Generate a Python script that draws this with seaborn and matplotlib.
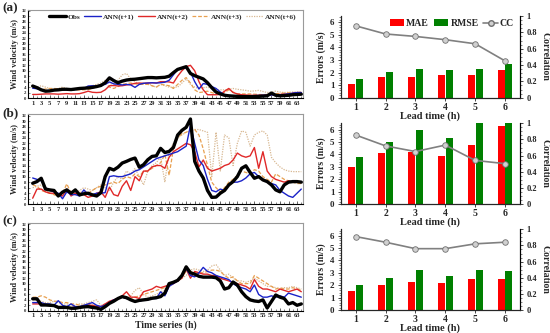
import numpy as np
import pandas as pd
import matplotlib
matplotlib.use('Agg')
import matplotlib.pyplot as plt
import seaborn as sns
from matplotlib.patches import Patch
from matplotlib.lines import Line2D
from matplotlib.ticker import MultipleLocator

# ---------------- data ----------------
series_names = ['Obs', 'ANN(t+1)', 'ANN(t+2)', 'ANN(t+3)', 'ANN(t+6)']

obs_a = [4.4,3.8,3.0,2.5,2.6,2.9,3.0,3.2,3.2,3.1,3.3,3.5,3.6,3.7,3.9,4.2,4.6,5.6,7.4,6.4,
         5.6,6.2,6.6,6.8,6.9,7.1,7.3,7.5,7.5,7.4,7.5,7.6,8.0,9.3,10.5,11.0,11.5,9.0,8.2,7.6,
         7.0,5.6,3.8,2.2,1.5,1.0,0.8,0.7,0.6,0.5,0.5,0.5,0.5,0.6,0.7,0.8,1.8,1.0,0.8,0.9,
         1.0,1.2,1.3,1.4]
ann1_a = [3.6,3.4,3.0,2.7,2.7,2.9,3.0,3.0,3.1,3.0,3.1,3.3,3.5,4.4,4.5,4.4,4.8,5.0,5.9,5.2,
          5.0,4.8,5.0,4.8,3.9,5.0,5.4,5.5,5.6,5.5,5.6,5.8,6.5,8.5,10.5,11.0,11.1,9.5,6.0,3.3,
          5.3,5.0,4.2,3.5,2.2,1.2,0.9,0.8,0.8,0.8,0.8,0.8,0.9,0.9,1.0,1.0,1.1,1.2,1.2,1.3,
          1.5,1.8,2.0,2.0]
ann2_a = [1.3,1.3,1.4,1.5,1.5,1.5,1.4,1.5,1.6,1.5,1.5,1.6,2.0,2.5,2.1,2.0,2.1,3.0,4.5,4.6,
          4.4,4.5,4.8,5.0,5.4,5.5,5.4,5.5,5.6,5.5,6.0,6.0,5.9,5.5,8.0,10.0,11.5,12.0,10.0,6.0,
          3.0,1.2,1.2,1.2,1.3,2.5,3.5,2.0,1.5,1.2,1.1,1.0,1.0,1.0,1.0,1.1,1.2,1.2,1.3,1.4,
          1.5,1.7,2.0,2.0]
ann3_a = [4.5,3.8,3.0,3.3,3.5,3.5,3.4,3.5,3.0,2.8,2.9,3.0,3.0,3.1,3.5,4.2,4.8,5.5,4.0,3.5,
          4.2,5.0,5.3,5.5,5.2,5.0,5.0,5.0,4.5,4.0,5.0,4.8,4.5,3.5,5.0,6.5,7.5,5.5,3.0,2.0,
          2.2,2.5,2.0,1.5,1.8,2.0,3.0,2.2,1.5,1.5,1.5,1.5,1.4,1.3,1.2,1.3,1.5,1.6,1.7,1.8,
          1.9,2.0,2.0,2.0]
ann6_a = [3.5,4.0,4.5,4.0,3.5,3.0,3.5,4.0,3.5,3.0,3.2,3.4,3.5,4.0,4.5,5.0,5.5,6.5,5.5,4.5,
          6.5,8.5,9.0,7.0,6.0,5.0,5.2,5.5,4.5,4.0,5.0,4.5,4.0,4.0,4.0,5.5,7.0,5.0,4.0,3.5,
          3.8,4.0,3.5,3.0,3.0,3.0,3.2,3.5,3.2,3.0,2.8,2.5,2.6,2.8,2.4,2.0,2.2,2.5,2.2,2.0,
          2.1,2.2,2.2,2.2]

obs_b = [7.6,8.2,9.4,5.5,5.2,5.0,3.0,4.4,5.2,4.0,5.2,3.4,3.8,4.0,3.4,3.0,4.2,10.0,13.0,12.4,
         13.4,14.9,15.5,16.2,16.7,13.4,14.3,16.1,17.3,17.5,20.2,18.7,19.1,20.5,25.0,26.7,27.8,30.8,15.5,12.0,
         9.5,5.0,2.5,2.6,4.0,5.0,7.0,8.2,10.0,13.0,13.9,11.5,9.4,10.0,8.8,8.2,7.0,5.2,4.5,7.0,
         8.0,8.2,8.2,8.0]
ann1_b = [9.5,9.0,8.5,6.0,5.0,4.5,4.0,2.0,4.5,3.5,3.5,3.0,5.2,3.5,3.5,4.0,4.0,4.2,10.0,10.3,
          10.0,10.0,10.5,11.0,12.0,12.5,13.5,14.5,15.5,16.5,17.0,17.5,18.0,18.5,19.0,20.0,21.0,28.5,22.0,16.0,
          14.0,9.0,5.0,4.5,5.5,5.0,7.0,8.0,8.0,8.5,9.5,11.0,11.5,10.0,9.0,8.0,7.5,7.0,5.0,4.0,
          3.0,2.5,4.0,5.5]
ann2_b = [2.2,5.5,5.5,4.5,4.0,4.0,3.5,3.0,5.5,3.0,4.0,3.5,3.5,2.5,3.0,4.0,4.5,2.5,6.2,3.5,
          3.0,6.5,8.5,5.0,10.0,8.5,12.0,12.0,13.5,14.0,14.0,13.0,17.0,19.0,20.0,21.0,22.0,21.5,19.0,13.5,
          16.0,13.0,12.0,12.5,13.0,14.0,14.5,16.0,18.5,17.5,17.0,17.5,20.5,13.0,19.0,12.0,10.0,9.0,8.5,8.0,
          8.5,8.0,8.0,8.0]
ann3_b = [7.0,6.5,5.0,4.5,4.0,3.5,3.0,4.0,7.4,4.0,3.5,4.0,5.0,4.0,5.0,6.0,6.5,7.0,7.5,8.0,
          7.5,9.0,10.0,9.5,11.0,10.0,12.0,12.0,13.0,14.0,15.0,18.0,10.5,20.0,24.0,25.5,26.0,27.0,27.0,25.0,
          20.0,14.0,8.0,6.0,4.5,6.0,8.0,9.0,10.5,12.0,11.5,11.0,12.5,12.0,10.0,9.0,8.0,11.0,10.0,9.0,
          8.5,8.0,7.5,7.5]
ann6_b = [6.0,6.5,7.0,5.5,4.0,3.5,3.0,4.0,5.0,4.5,4.0,5.0,6.0,5.5,5.0,6.0,7.0,6.0,5.0,8.0,
          10.0,9.0,12.0,11.0,13.0,10.0,7.0,12.0,14.0,15.0,17.0,8.0,19.0,22.0,24.0,25.0,26.0,26.5,27.0,27.0,
          26.5,26.0,10.0,26.0,12.0,25.0,24.0,14.0,22.0,26.5,26.0,21.0,25.0,26.0,26.5,25.0,17.0,15.0,13.5,12.5,
          12.0,11.8,11.8,11.8]

obs_c = [4.4,4.4,2.1,2.1,2.0,1.9,1.2,1.2,1.2,0.9,0.9,1.2,1.4,1.5,1.2,1.0,0.5,1.5,2.7,3.5,
         4.5,5.2,4.8,4.0,3.4,3.8,4.0,4.2,4.6,4.8,5.2,6.5,10.0,10.5,11.2,13.0,16.2,14.0,13.5,12.7,
         12.4,12.4,12.4,12.2,11.0,8.0,8.5,10.6,9.5,7.0,5.2,4.0,3.6,3.4,4.0,1.0,3.4,5.8,5.0,4.5,
         2.5,3.0,2.0,2.5]
ann1_c = [3.0,3.0,3.0,2.5,2.5,2.0,3.7,2.0,1.5,2.5,1.5,1.5,2.0,2.5,3.0,2.0,1.5,2.0,3.0,4.0,
          4.5,5.0,4.5,4.0,3.5,3.5,4.0,4.0,4.5,4.5,7.0,5.5,9.0,10.0,11.0,13.0,15.5,13.0,12.5,14.0,
          16.0,14.5,14.0,13.0,12.5,12.0,11.5,10.0,9.0,8.5,8.0,7.0,9.5,6.0,5.0,5.0,5.5,5.0,5.5,5.0,
          6.5,6.0,5.5,5.0]
ann2_c = [2.5,2.5,2.5,2.0,2.0,2.0,1.5,1.5,1.0,1.0,1.5,1.5,1.5,2.0,2.0,1.5,1.5,2.5,3.5,4.0,
          4.5,5.5,7.0,5.0,5.0,4.5,7.0,7.5,8.0,9.0,8.5,9.0,9.5,10.0,11.0,12.0,15.5,12.0,14.5,14.0,
          13.5,13.5,13.0,13.0,12.0,11.5,11.0,10.5,10.0,9.5,9.0,8.0,11.5,9.0,8.0,8.0,7.5,7.0,8.0,7.5,
          7.0,7.5,8.0,7.0]
ann3_c = [5.0,5.0,5.5,5.0,4.0,3.5,3.5,3.0,3.0,2.5,2.5,2.0,2.0,2.5,2.0,2.0,1.5,2.5,3.0,4.0,
          4.5,5.0,5.0,4.5,5.0,5.5,6.0,6.5,7.0,7.5,8.0,8.5,9.0,10.0,11.0,12.5,14.5,14.5,14.0,14.0,
          14.0,14.5,15.0,15.0,14.5,13.0,12.0,12.5,11.0,10.0,10.0,10.0,13.0,12.0,11.0,10.0,9.0,8.0,8.5,8.0,
          8.0,8.5,8.0,7.5]
ann6_c = [4.0,4.0,3.5,3.0,3.0,3.5,3.0,2.5,2.5,2.0,2.0,2.5,2.5,3.0,3.5,4.0,2.0,2.5,3.0,4.0,
          4.5,5.0,4.5,5.5,7.5,8.5,6.0,5.0,5.5,6.0,7.0,7.5,9.0,10.0,11.0,12.0,13.0,15.0,15.5,15.0,
          14.5,15.0,16.5,17.0,15.0,13.0,13.5,12.0,11.0,11.0,10.5,11.0,12.0,11.0,10.0,9.0,9.0,8.5,8.0,8.5,
          8.5,9.0,8.5,8.0]

lead_times = [1, 2, 3, 4, 5, 6]
mae_a = [1.07, 1.63, 1.63, 1.81, 1.81, 2.21]
rmse_a = [1.49, 2.03, 2.27, 2.21, 2.29, 2.67]
cc_a = [0.88, 0.78, 0.75, 0.71, 0.66, 0.45]
mae_b = [3.0, 4.07, 4.2, 3.86, 4.74, 6.3]
rmse_b = [3.8, 5.0, 6.0, 5.3, 6.6, 6.6]
cc_b = [0.855, 0.72, 0.65, 0.73, 0.54, 0.50]
mae_c = [1.55, 2.0, 2.27, 2.21, 2.48, 2.48]
rmse_c = [2.0, 2.61, 3.2, 2.72, 3.2, 3.12]
cc_c = [0.91, 0.84, 0.76, 0.76, 0.82, 0.84]

panel_labels = ['(a)', '(b)', '(c)']
ts_ticks = list(range(1, 64, 2))
wind_ticks = list(range(0, 33, 2))

# ---------------- style ----------------
sns.set_style('ticks')
plt.rcParams['font.family'] = ['Liberation Serif', 'DejaVu Serif']
plt.rcParams['font.weight'] = 'bold'
plt.rcParams['axes.labelweight'] = 'bold'

colors = ['#000000', '#1A22C8', '#E02828', '#E8A050', '#D8B892']
widths = [2.4, 1.0, 1.0, 0.9, 0.9]
styles = ['-', '-', '-', (0, (3, 1.5)), (0, (1, 1))]
c_mae, c_rmse, c_cc = '#FF0000', '#008000', '#808080'

fig = plt.figure(figsize=(5.5, 3.33), dpi=100)

H = 333.0
def fpos(x0, x1, y0, y1):
    return [x0 / 550.0, 1 - y1 / H, (x1 - x0) / 550.0, (y1 - y0) / H]

left_boxes = [(28, 303, 9.5, 98), (28, 303, 114.3, 204.3), (28, 303, 222.7, 310.7)]
right_boxes = [(340.7, 520, 16, 97.7), (340.7, 520, 123.3, 204), (340.7, 520, 229.3, 310)]

ts_sets = [
    [obs_a, ann1_a, ann2_a, ann3_a, ann6_a],
    [obs_b, ann1_b, ann2_b, ann3_b, ann6_b],
    [obs_c, ann1_c, ann2_c, ann3_c, ann6_c],
]
err_sets = [(mae_a, rmse_a, cc_a), (mae_b, rmse_b, cc_b), (mae_c, rmse_c, cc_c)]

for i in range(3):
    # ---------- time series panel ----------
    ax = fig.add_axes(fpos(*left_boxes[i]))
    for k, (name, vals) in enumerate(zip(series_names, ts_sets[i])):
        t = np.arange(1, len(vals) + 1)
        kw = dict(label=name) if i == 0 else {}
        sns.lineplot(x=t, y=vals, ax=ax, color=colors[k], linewidth=widths[k],
                     linestyle=styles[k], zorder=10 - k if k > 0 else 11, **kw)
    ax.set_xlim(-0.1, 64.4)
    ax.set_ylim(0, 32.5)
    ax.set_xticks(ts_ticks)
    ax.xaxis.set_minor_locator(MultipleLocator(1))
    ax.set_yticks(wind_ticks)
    ax.yaxis.set_minor_locator(MultipleLocator(1))
    ax.tick_params(axis='x', which='major', labelsize=4.7, length=2, width=0.5, direction='in', pad=2)
    ax.tick_params(axis='x', which='minor', length=1.2, width=0.4, direction='in')
    ax.tick_params(axis='y', which='major', labelsize=3.4, length=1.5, width=0.4, direction='in', pad=1)
    ax.tick_params(axis='y', which='minor', length=1, width=0.3, direction='in')
    for lab in ax.get_xticklabels() + ax.get_yticklabels():
        lab.set_fontweight('bold')
    ax.set_ylabel('Wind velocity (m/s)', fontsize=6, fontweight='bold', labelpad=2)
    ax.set_xlabel('Time series (h)' if i == 2 else '', fontsize=7, fontweight='bold', labelpad=1.5)
    for side in ['top', 'right']:
        ax.spines[side].set_color('#9A9A9A')
        ax.spines[side].set_linewidth(0.8)
    for side in ['left', 'bottom']:
        ax.spines[side].set_color('#000000')
        ax.spines[side].set_linewidth(0.8)
    if i == 0:
        ax.legend(loc='center left', bbox_to_anchor=(0.06, 0.915), ncol=5, frameon=False,
                  handlelength=2.3, handletextpad=0.25, columnspacing=0.5,
                  borderpad=0.1, prop={'size': 5.3, 'weight': 'bold'})
    else:
        lg = ax.get_legend()
        if lg is not None:
            lg.remove()

    fig.text(2 / 550.0, 1 - (left_boxes[i][2] - 1) / H, panel_labels[i], fontsize=9.5,
             fontweight='bold', ha='left', va='center')

    # ---------- error panel ----------
    mae, rmse, cc = err_sets[i]
    axr = fig.add_axes(fpos(*right_boxes[i]))
    df = pd.DataFrame({
        'lead': [str(v) for v in lead_times] * 2,
        'value': list(mae) + list(rmse),
        'metric': ['MAE'] * len(mae) + ['RMSE'] * len(rmse),
    })
    sns.barplot(data=df, x='lead', y='value', hue='metric', ax=axr,
                palette={'MAE': c_mae, 'RMSE': c_rmse}, saturation=1,
                width=0.52, gap=0.1, errorbar=None, linewidth=0, legend=False)
    axr.set_xlim(-0.5, 5.5)
    axr.set_ylim(0, 6.5)
    axr.set_yticks([0, 1, 2, 3, 4, 5, 6])
    axr.yaxis.set_minor_locator(MultipleLocator(0.2))
    axr.tick_params(axis='y', which='major', labelsize=6.5, length=2.5, width=0.6, pad=2)
    axr.tick_params(axis='y', which='minor', length=1.2, width=0.4)
    axr.tick_params(axis='x', labelsize=7, length=2, width=0.6, pad=1.5)
    for lab in axr.get_xticklabels() + axr.get_yticklabels():
        lab.set_fontweight('bold')
    axr.set_ylabel('Errors (m/s)', fontsize=7, fontweight='bold', labelpad=3)
    axr.set_xlabel('Lead time (h)', fontsize=7.5, fontweight='bold', labelpad=0)
    axr.spines['top'].set_visible(False)
    for side in ['left', 'bottom', 'right']:
        axr.spines[side].set_linewidth(0.8)
        axr.spines[side].set_color('black')

    ax2 = axr.twinx()
    sns.lineplot(x=np.arange(len(cc)), y=cc, ax=ax2, color=c_cc, linewidth=1.2,
                 marker='o', markersize=4, markerfacecolor='#D0D0D0',
                 markeredgecolor='#707070', markeredgewidth=0.6)
    ax2.set_ylim(0, 1)
    ax2.set_yticks([0, 0.2, 0.4, 0.6, 0.8, 1.0])
    ax2.set_yticklabels(['0', '0.2', '0.4', '0.6', '0.8', '1'])
    ax2.yaxis.set_minor_locator(MultipleLocator(0.05))
    ax2.tick_params(axis='y', which='major', labelsize=6, length=2.5, width=0.6, pad=2)
    ax2.tick_params(axis='y', which='minor', length=1.2, width=0.4)
    for lab in ax2.get_yticklabels():
        lab.set_fontweight('bold')
    ax2.set_ylabel('Correlation', fontsize=7, fontweight='bold', rotation=270, labelpad=9)
    ax2.spines['top'].set_visible(False)
    ax2.spines['right'].set_linewidth(0.8)
    ax2.spines['right'].set_color('black')

    if i == 0:
        handles = [Patch(facecolor=c_mae, edgecolor='none', label='MAE'),
                   Patch(facecolor=c_rmse, edgecolor='none', label='RMSE'),
                   Line2D([], [], color=c_cc, linewidth=1.2, marker='o', markersize=4,
                          markerfacecolor='#D0D0D0', markeredgecolor='#707070', label='CC')]
        ax2.legend(handles=handles, loc='center', bbox_to_anchor=(0.62, 0.91), ncol=3,
                   frameon=False, handlelength=1.5, handleheight=0.6, handletextpad=0.2,
                   columnspacing=0.5, borderpad=0.1, prop={'size': 7, 'weight': 'bold'})

fig.savefig('out.png', dpi=100)
